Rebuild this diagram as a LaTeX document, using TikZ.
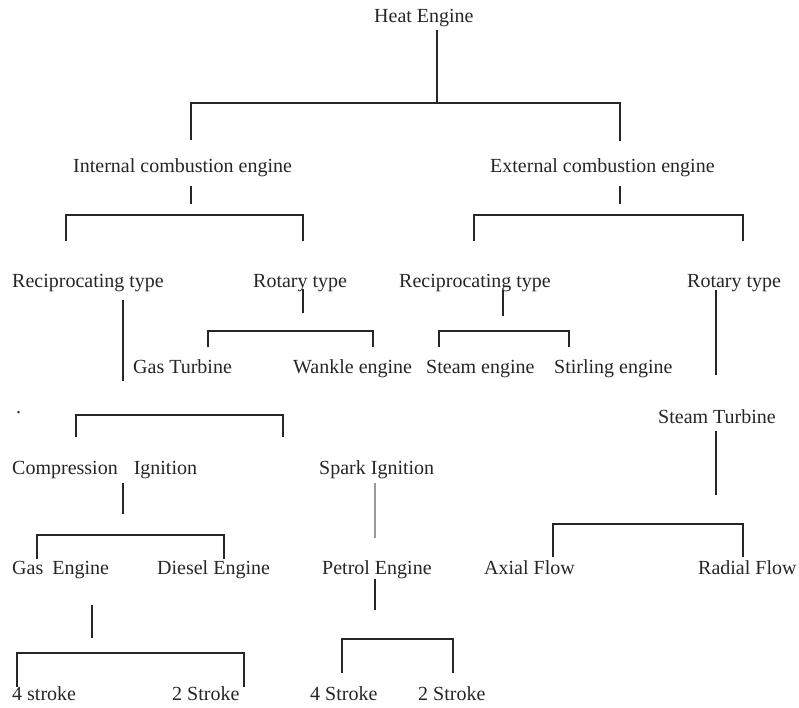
\documentclass[tikz,border=0pt]{standalone}
\usepackage{fontspec}
\setmainfont{Liberation Serif}
\begin{document}
\begin{tikzpicture}[x=1pt,y=-1pt,
  lbl/.style={anchor=base west,inner sep=0pt,font=\fontsize{20}{24}\selectfont,text=black!85},
  ln/.style={line width=1.5pt,black!85},
  lngray/.style={line width=1.5pt,black!40}]
\useasboundingbox[fill=white] (0,0) rectangle (799,708);
% labels
\node[lbl] (he) at (374,23) {Heat Engine};
\node[lbl] (ice) at (73,173) {Internal combustion engine};
\node[lbl] (ece) at (490,173) {External combustion engine};
\node[lbl] (rl) at (12,287) {Reciprocating type};
\node[lbl] (rol) at (253,287) {Rotary type};
\node[lbl] (rr) at (399,287) {Reciprocating type};
\node[lbl] (ror) at (687,287) {Rotary type};
\node[lbl] (gt) at (133,373) {Gas Turbine};
\node[lbl] (wk) at (293,373) {Wankle engine};
\node[lbl] (se) at (426,373) {Steam engine};
\node[lbl] (sl) at (554,373) {Stirling engine};
\node[lbl] (dot) at (16,413) {.};
\node[lbl] (st) at (658,423) {Steam Turbine};
\node[lbl] (ci) at (12,474) {Compression\hspace{16pt}Ignition};
\node[lbl] (si) at (319,474) {Spark Ignition};
\node[lbl] (ge) at (12,574) {Gas\hspace{9pt}Engine};
\node[lbl] (de) at (157,574) {Diesel Engine};
\node[lbl] (pe) at (322,574) {Petrol Engine};
\node[lbl] (af) at (484,574) {Axial Flow};
\node[lbl] (rf) at (698,574) {Radial Flow};
\node[lbl] (g4) at (12,700) {4 stroke};
\node[lbl] (g2) at (172,700) {2 Stroke};
\node[lbl] (p4) at (310,700) {4 Stroke};
\node[lbl] (p2) at (418,700) {2 Stroke};
% connectors
\coordinate (heS) at (437,30);
\draw[ln] (heS) -- (437,103);
\draw[ln] (191,140) -- (191,103) -- (620,103) -- (620,141);
\draw[ln] (191,186) -- (191,204);
\draw[ln] (66,241) -- (66,215) -- (303,215) -- (303,241);
\draw[ln] (620,186) -- (620,204);
\draw[ln] (474,241) -- (474,215) -- (743,215) -- (743,241);
\draw[ln] (123,300) -- (123,381);
\draw[ln] (303,289) -- (303,313);
\draw[ln] (208,347) -- (208,331) -- (373,331) -- (373,347);
\draw[ln] (76,437) -- (76,415) -- (283,415) -- (283,437);
\draw[ln] (503,290) -- (503,316);
\draw[ln] (439,347) -- (439,331) -- (569,331) -- (569,347);
\draw[ln] (716,290) -- (716,375);
\draw[ln] (716,431) -- (716,495);
\draw[ln] (553,557) -- (553,524) -- (743,524) -- (743,557);
\draw[ln] (123,483) -- (123,514);
\draw[ln] (37,559) -- (37,535) -- (224,535) -- (224,559);
\draw[lngray] (375,483) -- (375,538);
\draw[ln] (375,579) -- (375,610);
\draw[ln] (342,673) -- (342,639) -- (453,639) -- (453,673);
\draw[ln] (92,605) -- (92,638);
\draw[ln] (17,687) -- (17,653) -- (244,653) -- (244,687);
\end{tikzpicture}
\end{document}
